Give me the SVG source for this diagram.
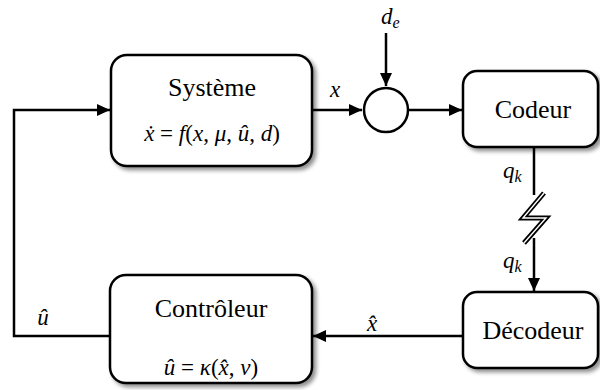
<svg xmlns="http://www.w3.org/2000/svg" width="600" height="390" viewBox="0 0 600 390">
<defs>
  <filter id="sh" x="-10%" y="-10%" width="125%" height="130%">
    <feGaussianBlur in="SourceAlpha" stdDeviation="2.2"/>
    <feOffset dx="2.5" dy="3" result="b"/>
    <feComponentTransfer><feFuncA type="linear" slope="0.45"/></feComponentTransfer>
    <feMerge><feMergeNode/><feMergeNode in="SourceGraphic"/></feMerge>
  </filter>
  <marker id="ah" markerUnits="userSpaceOnUse" markerWidth="13" markerHeight="12" refX="13" refY="6" orient="auto">
    <path d="M0,0 L13,6 L0,12 z" fill="#000"/>
  </marker>
</defs>
<style>
  .box{fill:#fff;stroke:#000;stroke-width:2.5}
  .ln{fill:none;stroke:#000;stroke-width:2.5}
  .lbl{font-family:"Liberation Serif","Times New Roman",serif;font-size:26px;fill:#000;text-anchor:middle}
  .m{font-family:"Liberation Serif","Times New Roman",serif;font-size:23px;fill:#000}
  .i{font-style:italic}
</style>
<rect width="600" height="390" fill="#fff"/>

<g id="connectors">
  <path class="ln" d="M312,110 H362" marker-end="url(#ah)"/>
  <path class="ln" d="M386,33 V86" marker-end="url(#ah)"/>
  <path class="ln" d="M408,110 H462" marker-end="url(#ah)"/>
  <path class="ln" d="M534,147 V195"/>
  <path class="ln" d="M534,238 V291" marker-end="url(#ah)"/>
  <path d="M544,193 L523,218 L546,218 L524,243" fill="none" stroke="#000" stroke-width="5" stroke-linejoin="miter"/>
  <path d="M544,193 L523,218 L546,218 L524,243" fill="none" stroke="#fff" stroke-width="1.4" stroke-linejoin="miter"/>
  <path class="ln" d="M463,336 H313" marker-end="url(#ah)"/>
  <path class="ln" d="M110,336 H14 V110 H110" marker-end="url(#ah)"/>
  <text class="m i" x="335" y="97" text-anchor="middle">x</text>
  <text class="m" x="381" y="24"><tspan class="i">d</tspan><tspan class="i" font-size="16" dy="4">e</tspan></text>
  <text class="m" x="503" y="178"><tspan class="i">q</tspan><tspan class="i" font-size="16" dy="4">k</tspan></text>
  <text class="m" x="503" y="268"><tspan class="i">q</tspan><tspan class="i" font-size="16" dy="4">k</tspan></text>
  <text class="m i" x="372" y="331" text-anchor="middle">x̂</text>
  <text class="m i" x="43" y="325" text-anchor="middle">û</text>
</g>

<g id="systeme">
  <rect class="box" x="111" y="55" width="201" height="111" rx="16" filter="url(#sh)"/>
  <text class="lbl" x="212" y="96">Système</text>
  <text class="m" x="212" y="141" text-anchor="middle"><tspan class="i">ẋ</tspan> = <tspan class="i">f</tspan>(<tspan class="i">x</tspan>, <tspan class="i">μ</tspan>, <tspan class="i">û</tspan>, <tspan class="i">d</tspan>)</text>
</g>

<g id="sommateur">
  <circle class="box" cx="386" cy="110" r="22"/>
</g>

<g id="codeur">
  <rect class="box" x="463" y="71" width="135" height="76" rx="14" filter="url(#sh)"/>
  <text class="lbl" x="533" y="118">Codeur</text>
</g>

<g id="decodeur">
  <rect class="box" x="463" y="292" width="135" height="76" rx="14" filter="url(#sh)"/>
  <text class="lbl" x="533" y="339">Décodeur</text>
</g>

<g id="controleur">
  <rect class="box" x="110" y="275" width="202" height="108" rx="16" filter="url(#sh)"/>
  <text class="lbl" x="211" y="317">Contrôleur</text>
  <text class="m" x="211" y="375" text-anchor="middle"><tspan class="i">û</tspan> = <tspan class="i">κ</tspan>(<tspan class="i">x̂</tspan>, <tspan class="i">ν</tspan>)</text>
</g>
</svg>
